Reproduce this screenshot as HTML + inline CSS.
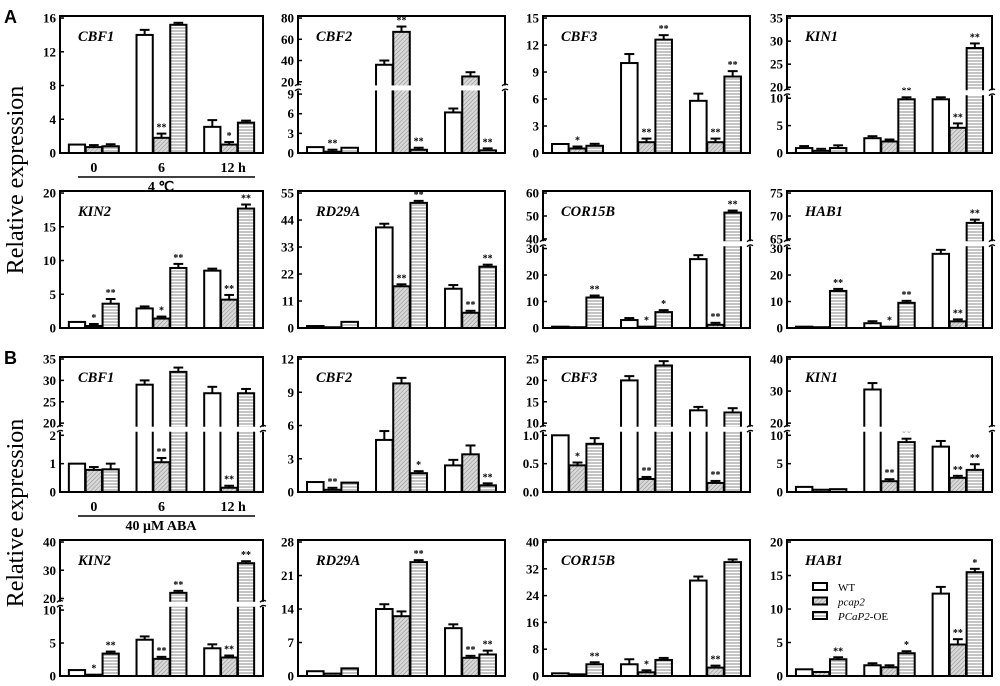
<!DOCTYPE html>
<html><head><meta charset="utf-8">
<style>
html,body{margin:0;padding:0;background:#fff;}
svg{display:block;}
text{font-family:"Liberation Serif",serif;}
</style></head>
<body>
<svg id="fig" width="1000" height="686" viewBox="0 0 1000 686" xmlns="http://www.w3.org/2000/svg">
<defs>
<pattern id="diag" patternUnits="userSpaceOnUse" width="3" height="3" patternTransform="rotate(45)">
<rect width="3" height="3" fill="#d8d8d8"/><line x1="0" y1="0" x2="0" y2="3" stroke="#8a8a8a" stroke-width="1"/>
</pattern>
<pattern id="horiz" patternUnits="userSpaceOnUse" width="4" height="3">
<rect width="4" height="3" fill="#fff"/><line x1="0" y1="1" x2="4" y2="1" stroke="#888" stroke-width="1"/>
</pattern>
</defs>
<text x="4" y="23" style="font-family:'Liberation Sans',sans-serif" font-weight="bold" font-size="18">A</text>
<text x="4" y="364" style="font-family:'Liberation Sans',sans-serif" font-weight="bold" font-size="18">B</text>
<text transform="translate(23,180) rotate(-90)" text-anchor="middle" font-size="24">Relative expression</text>
<text transform="translate(23,513) rotate(-90)" text-anchor="middle" font-size="24">Relative expression</text>
</svg>
<script>
const genes = ["CBF1","CBF2","CBF3","KIN1","KIN2","RD29A","COR15B","HAB1","CBF1","CBF2","CBF3","KIN1","KIN2","RD29A","COR15B","HAB1"];
const timeLabels = ["0","6","12 h"];
const wtValues = [[1,14,3.1],[0.9,36,6.2],[1,10,5.8],[0.9,2.7,9.8],[0.9,2.9,8.5],[0.8,41,16],[0.5,3,26],[0.5,1.8,28],
  [1,29,27],[0.9,4.7,2.4],[1.0,20,13],[0.9,30.5,8],[0.9,5.5,4.2],[1,14,10],[0.8,3.5,28.5],[1,1.6,12.3]];
const pcapValues = [[0.7,1.8,1.0],[0.2,67,25],[0.5,1.2,1.2],[0.4,2.1,4.6],[0.3,1.4,4.2],[0.3,17,6.2],[0.3,0.5,1.2],[0.3,0.5,2.5],
  [0.78,1.05,0.15],[0.2,9.8,3.4],[0.47,0.23,0.16],[0.4,1.9,2.5],[0.2,2.6,2.8],[0.5,12.5,3.8],[0.5,1.1,2.5],[0.6,1.3,4.7]];
const oeValues = [[0.8,15.2,3.6],[0.8,0.5,0.4],[0.8,12.6,8.5],[0.9,9.8,28.5],[3.6,8.9,17.7],[2.5,51,25],[11.5,6,51.5],[14,9.5,68.5],
  [0.8,32,27],[0.85,1.7,0.6],[0.85,23.5,12.5],[0.5,8.8,3.9],[3.4,22,32.5],[1.6,23.8,4.5],[3.5,4.8,34],[2.5,3.4,15.5]];
const wtErr = [[0,0.6,0.8],[0,4,0.6],[0,1,0.8],[0.1,0.1,0.6],[0,0.1,0.1],[0,1.5,1.5],[0,0.1,1.5],[0,0.1,1.5],
  [0,1,1.5],[0,0.8,0.5],[0,1,0.8],[0,2,1],[0,0.5,0.6],[0,1,0.8],[0,1.5,1.2],[0,0.3,1]];
const pcapErr = [[0.1,0.5,0.3],[0.05,5,4],[0.1,0.4,0.4],[0.1,0.1,0.8],[0.05,0.2,0.7],[0,0.8,0.5],[0,0,0.3],[0,0,0.5],
  [0.1,0.15,0.05],[0.05,0.5,0.8],[0.05,0.02,0.01],[0,0.2,0.2],[0,0.2,0.2],[0,1,0.2],[0,0.2,0.3],[0,0.1,0.8]];
const oeErr = [[0.1,0.2,0.1],[0,0.1,0.1],[0.05,0.5,0.6],[0.5,0.8,1],[0.7,0.6,0.6],[0,0.5,0.5],[0.5,0.3,0.6],[0.5,0.5,0.7],
  [0.2,1,1],[0,0.1,0.1],[0.1,1,1],[0,0.6,1],[0.3,0.5,0.5],[0,0.3,0.8],[0.3,0.2,0.8],[0.2,0.2,0.5]];
const pcapSig = [["","**","*"],["**","**",""],["*","**","**"],["","","**"],["*","*","**"],["","**","**"],["","*","**"],["","*","**"],
  ["","**","**"],["**","",""],["*","**","**"],["","**","**"],["*","**","**"],["","","**"],["","*","**"],["","","**"]];
const oeSig = [["","",""],["","**","**"],["","**","**"],["","**","**"],["**","**","**"],["","**","**"],["**","*","**"],["**","**","**"],
  ["","",""],["","*","**"],["","",""],["","**","**"],["**","**","**"],["","**","**"],["**","",""],["**","*","*"]];
const yTicks = [[0,4,8,12,16],[0,3,6,9,20,40,60,80],[0,3,6,9,12,15],[0,5,10,20,25,30,35],
  [0,5,10,15,20],[0,11,22,33,44,55],[0,10,20,30,40,50,60],[0,10,20,30,65,70,75],
  [0,1,2,20,25,30,35],[0,3,6,9,12],[0,0.5,1.0,10,15,20,25],[0,5,10,20,30,40],
  [0,5,10,20,30,40],[0,7,14,21,28],[0,8,16,24,32,40],[0,5,10,15,20]];
const tickText = [null,null,null,null,null,null,null,null,null,null,["0.0","0.5","1.0","10","15","20","25"],null,null,null,null,null];
const axisBreaks = [null,[9,20,0.43,0.52],null,[10,20,0.40,0.48],null,null,[30,40,0.58,0.65],[30,65,0.58,0.65],
  [2,20,0.42,0.51],null,[1,10,0.42,0.51],[10,20,0.42,0.51],[10,20,0.485,0.57],null,null,null];

const colX = [[60,263],[298,505],[543,750],[787,992]];
const rowY = [[16,153],[191,328],[357,492],[540,676]];
const NS = "http://www.w3.org/2000/svg";
const svg = document.getElementById("fig");
function mk(tag, attrs, parent){const e=document.createElementNS(NS,tag);for(const k in attrs)e.setAttribute(k,attrs[k]);(parent||svg).appendChild(e);return e;}

genes.forEach((g,p)=>{
  const [x0,x1]=colX[p%4], [y0,y1]=rowY[Math.floor(p/4)];
  const w=x1-x0, h=y1-y0;
  const ticks=yTicks[p], yMax=ticks[ticks.length-1], br=axisBreaks[p];
  const top=0.985;
  function yScale(v){
    if(!br) return y1 - v/yMax*h*top;
    const [lm,um,lf,uf]=br;
    if(v<=lm) return y1 - v/lm*lf*h;
    return y1 - (uf + (v-um)/(yMax-um)*(top-uf))*h;
  }
  const grp=mk("g",{});
  
  
  const series=[[wtValues[p],wtErr[p],"#fff",null,"wt"],[pcapValues[p],pcapErr[p],"url(#diag)",pcapSig[p],"pcap2"],[oeValues[p],oeErr[p],"url(#horiz)",oeSig[p],"oe"]];
  for(let gi=0;gi<3;gi++){
    const cx=x0+w*(gi+0.5)/3;
    series.forEach((s,si)=>{
      const v=s[0][gi], e=s[1][gi];
      const bx=cx+(si-1)*w*0.083 - w*0.04, bw=w*0.08;
      const yt=yScale(v);
      const r=mk("rect",{x:bx,y:yt,width:bw,height:Math.max(y1-yt,0.5),fill:s[2],stroke:"#000","stroke-width":2},grp);
      
      
      let ye=yt;
      if(e>0){ ye=yScale(v+e); if(yt-ye<2) ye=yt-2;
        mk("line",{x1:bx+bw/2,x2:bx+bw/2,y1:yt,y2:ye,stroke:"#000","stroke-width":2},grp);
        mk("line",{x1:bx+bw/2-bw*0.3,x2:bx+bw/2+bw*0.3,y1:ye,y2:ye,stroke:"#000","stroke-width":2},grp);
      }
      if(s[3] && s[3][gi]){
        const t=mk("text",{x:bx+bw/2,y:ye-3,"text-anchor":"middle","font-size":10,"font-weight":"bold"},grp);
        t.textContent=s[3][gi];
        
        
      }
    });
  }
  if(br){
    const yb=y1-((br[2]+br[3])/2)*h;
    mk("rect",{x:x0+2,y:yb-2.5,width:w-4,height:5,fill:"#fff"},grp);
  }
  const box=mk("rect",{x:x0,y:y0,width:w,height:h,fill:"none",stroke:"#000","stroke-width":2},grp);
  
  
  if(br){const yb=y1-((br[2]+br[3])/2)*h;
    mk("rect",{x:x0-1.5,y:yb-2.5,width:3,height:5,fill:"#fff"},grp);
    mk("rect",{x:x1-1.5,y:yb-2.5,width:3,height:5,fill:"#fff"},grp);
    [x0,x1].forEach(xx=>mk("path",{d:`M${xx-3} ${yb-2} q3 -3 6 -1 M${xx-3} ${yb+3} q3 -3 6 -1`,stroke:"#000","stroke-width":1.3,fill:"none"},grp));
  }
  ticks.forEach((t,ti)=>{
    const yy=yScale(t);
    mk("line",{x1:x0,x2:x0+4,y1:yy,y2:yy,stroke:"#000","stroke-width":1.5},grp);
    const tl=mk("text",{x:x0-4,y:yy+4.5,"text-anchor":"end","font-size":13,"font-weight":"bold"},grp);
    tl.textContent = tickText[p] ? tickText[p][ti] : String(t);
    
    
  });
  const gt=mk("text",{x:x0+18,y:y0+25,"font-size":14.5,"font-weight":"bold","font-style":"italic"},grp);
  gt.textContent=g;
  
  
});

[[153,"4 ℃"],[492,"40 μM ABA"]].forEach(([yb,lab],k)=>{
  const [x0,x1]=colX[0], w=x1-x0;
  timeLabels.forEach((t,gi)=>{
    const tx=mk("text",{x:x0+w*(gi+0.5)/3+(gi==2?4:0),y:yb+19,"text-anchor":"middle","font-size":14,"font-weight":"bold"});
    tx.textContent=t;
    
    
  });
  mk("line",{x1:78,x2:255,y1:yb+19+5,y2:yb+19+5,stroke:"#000","stroke-width":1.5});
  const tr=mk("text",{x:161,y:yb+19+19,"text-anchor":"middle","font-size":14,"font-weight":"bold"});
  tr.textContent=lab;
  
  
});

const legend=mk("g",{});


[["#fff","WT"],["url(#diag)","pcap2"],["url(#horiz)","PCaP2-OE"]].forEach(([f,l],i)=>{
  const yy=583+i*14.5;
  mk("rect",{x:813,y:yy,width:14,height:7,fill:f,stroke:"#000","stroke-width":2},legend);
  const t=mk("text",{x:838,y:yy+8,"font-size":11},legend);
  
  
  if(l==="WT"){t.textContent="WT";}
  else if(l==="pcap2"){t.setAttribute("font-style","italic");t.textContent="pcap2";}
  else{const s=document.createElementNS(NS,"tspan");s.setAttribute("font-style","italic");s.textContent="PCaP2";t.appendChild(s);t.appendChild(document.createTextNode("-OE"));}
});
</script>
</body></html>
